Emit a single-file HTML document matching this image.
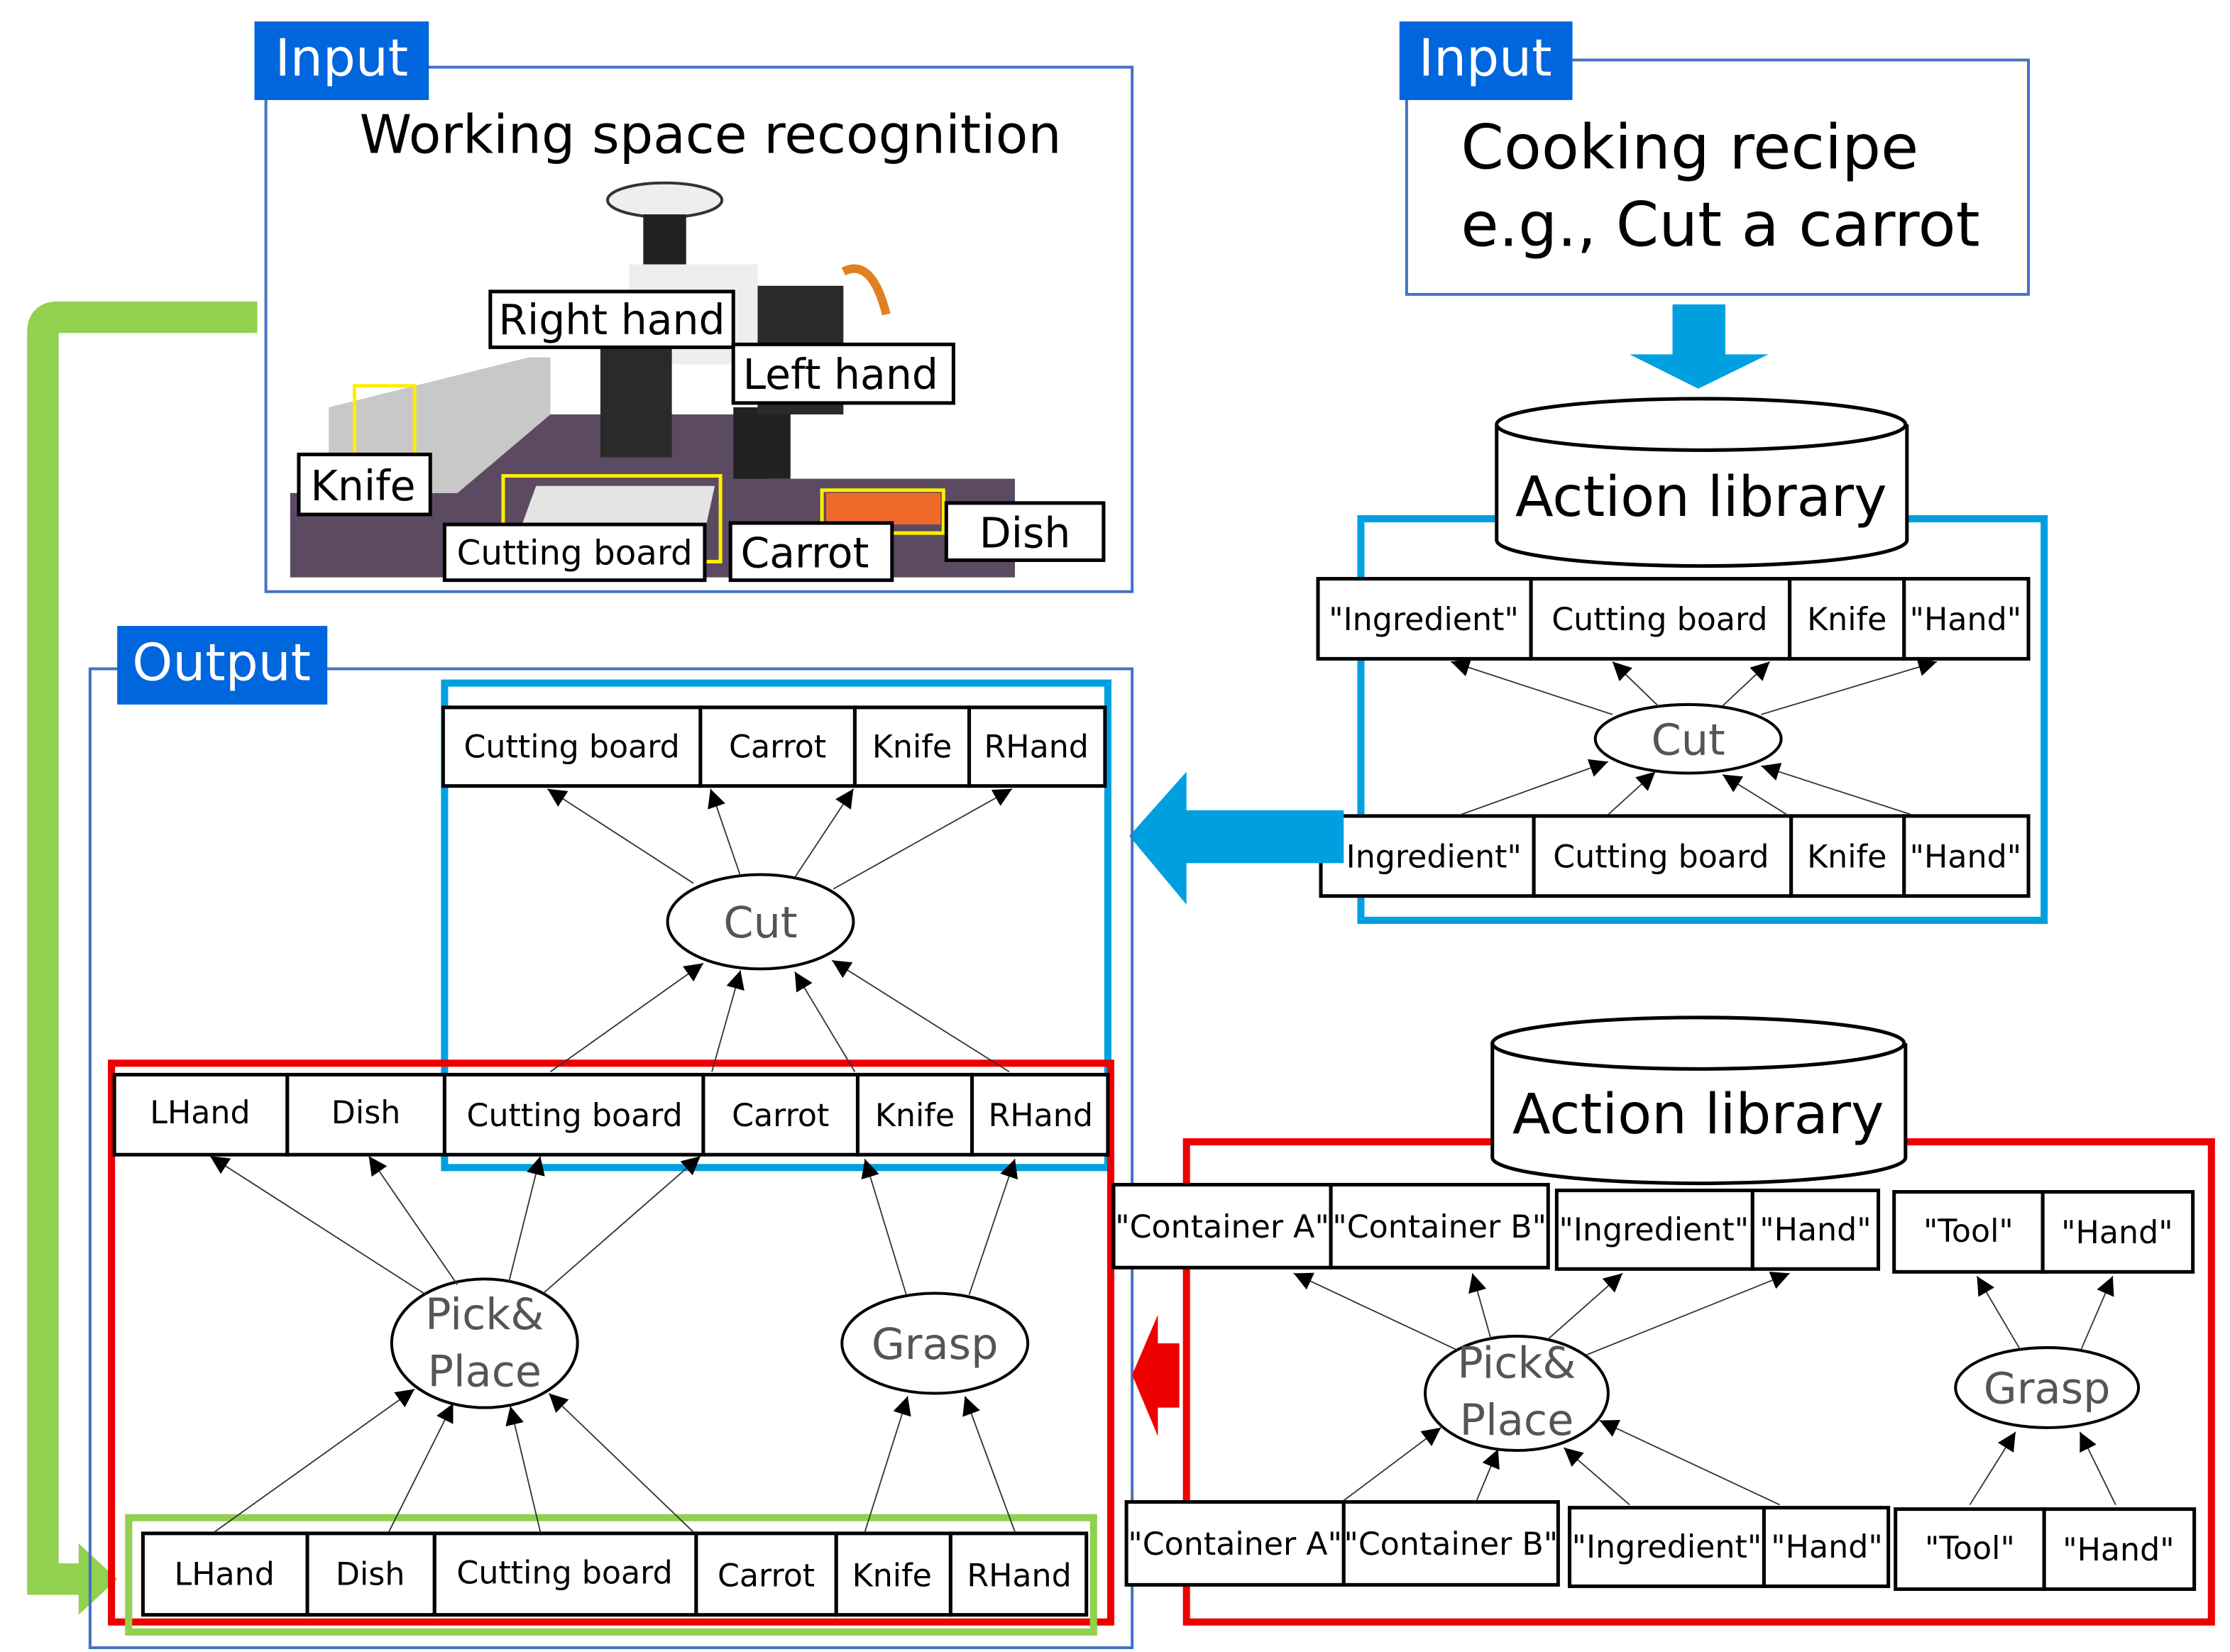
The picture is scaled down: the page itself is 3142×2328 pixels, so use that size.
<!DOCTYPE html>
<html><head><meta charset="utf-8"><style>
html,body{margin:0;padding:0;background:#fff}
svg{display:block}
text{font-family:"DejaVu Sans","Liberation Sans",sans-serif}
.bx{fill:#fff;stroke:#000;stroke-width:2.5}
.bt{font-size:22px;text-anchor:middle;fill:#000}
.ln{stroke:#333;stroke-width:0.9;fill:none}
.el{fill:#fff;stroke:#000;stroke-width:2}
.et{font-size:30px;text-anchor:middle;fill:#555}
</style></head><body>
<svg width="3142" height="2328" viewBox="0 0 1560 1156" preserveAspectRatio="none" xmlns="http://www.w3.org/2000/svg">
<defs>
<marker id="a" viewBox="0 0 10 10" refX="10" refY="5" markerWidth="13" markerHeight="13" markerUnits="userSpaceOnUse" orient="auto"><path d="M0,0L10,5L0,10z" fill="#000"/></marker>
</defs>

<path d="M180,222 L40,222 Q30,222 30,232 L30,1105 L58,1105" fill="none" stroke="#92d050" stroke-width="22"/>
<polygon points="82,1105 55,1080 55,1130" fill="#92d050"/>

<rect x="186" y="47" width="606" height="367" fill="#fff" stroke="#4472c4" stroke-width="2"/>
<rect x="178" y="15" width="122" height="55" fill="#0066dd"/>
<text x="239" y="53" font-size="36" fill="#fff" text-anchor="middle">Input</text>
<text x="497" y="107" font-size="37" text-anchor="middle">Working space recognition</text>
<polygon points="203,370 203,345 320,345 385,290 540,290 540,335 710,335 710,404 203,404" fill="#5b4a62"/>
<polygon points="230,285 370,250 385,250 385,290 320,345 230,345" fill="#c8c8c8"/>
<polygon points="355,395 375,340 500,340 488,395" fill="#e4e4e4"/>
<rect x="578" y="345" width="80" height="22" fill="#f06a2a"/>
<rect x="513" y="285" width="40" height="50" fill="#222"/>
<ellipse cx="465" cy="140" rx="40" ry="12" fill="#eee" stroke="#333" stroke-width="2"/>
<rect x="450" y="150" width="30" height="40" fill="#222"/>
<rect x="440" y="185" width="90" height="70" fill="#eee"/>
<rect x="420" y="240" width="50" height="80" fill="#2a2a2a"/>
<rect x="530" y="200" width="60" height="90" fill="#2a2a2a"/>
<path d="M590,190 Q610,180 620,220" stroke="#e08020" stroke-width="6" fill="none"/>
<rect x="248" y="270" width="42" height="55" fill="none" stroke="#ffee00" stroke-width="2.5"/>
<rect x="352" y="333" width="152" height="60" fill="none" stroke="#ffee00" stroke-width="2.5"/>
<rect x="575" y="343" width="85" height="30" fill="none" stroke="#ffee00" stroke-width="2.5"/>
<rect class="bx" x="343" y="204" width="170" height="39"/><text x="428" y="234" font-size="29" text-anchor="middle">Right hand</text>
<rect class="bx" x="513" y="241" width="154" height="41"/><text x="588" y="272" font-size="29" text-anchor="middle">Left hand</text>
<rect class="bx" x="209" y="318" width="92" height="42"/><text x="254" y="350" font-size="29" text-anchor="middle">Knife</text>
<rect class="bx" x="311" y="367" width="182" height="39"/><text x="402" y="395" font-size="24" text-anchor="middle">Cutting board</text>
<rect class="bx" x="511" y="366" width="113" height="40"/><text x="563" y="397" font-size="29" text-anchor="middle">Carrot</text>
<rect class="bx" x="662" y="352" width="110" height="40"/><text x="717" y="383" font-size="29" text-anchor="middle">Dish</text>

<rect x="984" y="42" width="435" height="164" fill="#fff" stroke="#4472c4" stroke-width="2"/>
<rect x="979" y="15" width="121" height="55" fill="#0066dd"/>
<text x="1039" y="53" font-size="36" fill="#fff" text-anchor="middle">Input</text>
<text x="1022" y="118" font-size="43">Cooking recipe</text>
<text x="1022" y="172" font-size="43">e.g., Cut a carrot</text>

<rect x="1170" y="213" width="37" height="37" fill="#00a0e0"/>
<polygon points="1140,248 1237,248 1188,272" fill="#00a0e0"/>

<rect x="952" y="363" width="478" height="281" fill="none" stroke="#00a0e0" stroke-width="5"/>
<path d="M1047,297 L1047,378 A143,18 0 0 0 1334,378 L1334,297" fill="#fff" stroke="#000" stroke-width="2.5"/>
<ellipse cx="1190" cy="297" rx="143" ry="18" fill="#fff" stroke="#000" stroke-width="2.5"/>
<text x="1190" y="361" font-size="39" text-anchor="middle">Action library</text>

<rect class="bx" x="922" y="405" width="149" height="56"/><text class="bt" x="996" y="441" font-size="21">"Ingredient"</text>
<rect class="bx" x="1071" y="405" width="181" height="56"/><text class="bt" x="1161" y="441">Cutting board</text>
<rect class="bx" x="1252" y="405" width="80" height="56"/><text class="bt" x="1292" y="441">Knife</text>
<rect class="bx" x="1332" y="405" width="87" height="56"/><text class="bt" x="1375" y="441">"Hand"</text>
<ellipse class="el" cx="1181" cy="517" rx="65" ry="24"/><text class="et" x="1181" y="528">Cut</text>
<rect class="bx" x="924" y="571" width="149" height="56"/><text class="bt" x="998" y="607" font-size="21">"Ingredient"</text>
<rect class="bx" x="1073" y="571" width="180" height="56"/><text class="bt" x="1162" y="607">Cutting board</text>
<rect class="bx" x="1253" y="571" width="79" height="56"/><text class="bt" x="1292" y="607">Knife</text>
<rect class="bx" x="1332" y="571" width="87" height="56"/><text class="bt" x="1375" y="607">"Hand"</text>
<line class="ln" x1="1128" y1="500" x2="1015" y2="463" marker-end="url(#a)"/>
<line class="ln" x1="1160" y1="494" x2="1128" y2="463" marker-end="url(#a)"/>
<line class="ln" x1="1205" y1="494" x2="1238" y2="463" marker-end="url(#a)"/>
<line class="ln" x1="1232" y1="500" x2="1355" y2="463" marker-end="url(#a)"/>
<line class="ln" x1="1022" y1="570" x2="1125" y2="533" marker-end="url(#a)"/>
<line class="ln" x1="1125" y1="570" x2="1158" y2="540" marker-end="url(#a)"/>
<line class="ln" x1="1250" y1="570" x2="1205" y2="542" marker-end="url(#a)"/>
<line class="ln" x1="1337" y1="570" x2="1232" y2="536" marker-end="url(#a)"/>

<rect x="828" y="567" width="112" height="37" fill="#00a0e0"/>
<polygon points="790,585 830,540 830,633" fill="#00a0e0"/>

<rect x="63" y="468" width="729" height="685" fill="none" stroke="#4472c4" stroke-width="2"/>
<rect x="82" y="438" width="147" height="55" fill="#0066dd"/>
<text x="155" y="476" font-size="36" fill="#fff" text-anchor="middle">Output</text>

<rect x="311" y="478" width="464" height="339" fill="none" stroke="#00a0e0" stroke-width="5"/>
<rect x="78" y="744" width="699" height="391" fill="none" stroke="#ee0000" stroke-width="5"/>
<rect x="90" y="1062" width="675" height="80" fill="none" stroke="#92d050" stroke-width="5"/>

<rect class="bx" x="310" y="495" width="180" height="55"/><text class="bt" x="400" y="530">Cutting board</text>
<rect class="bx" x="490" y="495" width="108" height="55"/><text class="bt" x="544" y="530">Carrot</text>
<rect class="bx" x="598" y="495" width="80" height="55"/><text class="bt" x="638" y="530">Knife</text>
<rect class="bx" x="678" y="495" width="95" height="55"/><text class="bt" x="725" y="530">RHand</text>
<ellipse class="el" cx="532" cy="645" rx="65" ry="33"/><text class="et" x="532" y="656">Cut</text>
<line class="ln" x1="485" y1="618" x2="383" y2="552" marker-end="url(#a)"/>
<line class="ln" x1="518" y1="613" x2="497" y2="552" marker-end="url(#a)"/>
<line class="ln" x1="556" y1="614" x2="597" y2="552" marker-end="url(#a)"/>
<line class="ln" x1="583" y1="622" x2="708" y2="552" marker-end="url(#a)"/>
<line class="ln" x1="385" y1="750" x2="492" y2="674" marker-end="url(#a)"/>
<line class="ln" x1="498" y1="750" x2="518" y2="679" marker-end="url(#a)"/>
<line class="ln" x1="598" y1="750" x2="556" y2="680" marker-end="url(#a)"/>
<line class="ln" x1="706" y1="750" x2="582" y2="672" marker-end="url(#a)"/>

<rect class="bx" x="80" y="752" width="121" height="56"/><text class="bt" x="140" y="786">LHand</text>
<rect class="bx" x="201" y="752" width="110" height="56"/><text class="bt" x="256" y="786">Dish</text>
<rect class="bx" x="311" y="752" width="181" height="56"/><text class="bt" x="402" y="788">Cutting board</text>
<rect class="bx" x="492" y="752" width="108" height="56"/><text class="bt" x="546" y="788">Carrot</text>
<rect class="bx" x="600" y="752" width="80" height="56"/><text class="bt" x="640" y="788">Knife</text>
<rect class="bx" x="680" y="752" width="95" height="56"/><text class="bt" x="728" y="788">RHand</text>

<ellipse class="el" cx="339" cy="940" rx="65" ry="45"/>
<text class="et" x="339" y="930">Pick&amp;</text><text class="et" x="339" y="970">Place</text>
<ellipse class="el" cx="654" cy="940" rx="65" ry="35"/><text class="et" x="654" y="951">Grasp</text>
<line class="ln" x1="298" y1="906" x2="147" y2="809" marker-end="url(#a)"/>
<line class="ln" x1="320" y1="899" x2="258" y2="809" marker-end="url(#a)"/>
<line class="ln" x1="356" y1="897" x2="378" y2="809" marker-end="url(#a)"/>
<line class="ln" x1="380" y1="905" x2="490" y2="809" marker-end="url(#a)"/>
<line class="ln" x1="634" y1="906" x2="605" y2="811" marker-end="url(#a)"/>
<line class="ln" x1="678" y1="906" x2="710" y2="811" marker-end="url(#a)"/>

<rect class="bx" x="100" y="1073" width="115" height="57"/><text class="bt" x="157" y="1109">LHand</text>
<rect class="bx" x="215" y="1073" width="89" height="57"/><text class="bt" x="259" y="1109">Dish</text>
<rect class="bx" x="304" y="1073" width="183" height="57"/><text class="bt" x="395" y="1108">Cutting board</text>
<rect class="bx" x="487" y="1073" width="98" height="57"/><text class="bt" x="536" y="1110">Carrot</text>
<rect class="bx" x="585" y="1073" width="80" height="57"/><text class="bt" x="624" y="1110">Knife</text>
<rect class="bx" x="665" y="1073" width="95" height="57"/><text class="bt" x="713" y="1110">RHand</text>
<line class="ln" x1="150" y1="1072" x2="290" y2="972" marker-end="url(#a)"/>
<line class="ln" x1="272" y1="1072" x2="317" y2="982" marker-end="url(#a)"/>
<line class="ln" x1="378" y1="1072" x2="357" y2="984" marker-end="url(#a)"/>
<line class="ln" x1="485" y1="1072" x2="384" y2="975" marker-end="url(#a)"/>
<line class="ln" x1="605" y1="1072" x2="635" y2="977" marker-end="url(#a)"/>
<line class="ln" x1="710" y1="1072" x2="675" y2="977" marker-end="url(#a)"/>

<rect x="808" y="940" width="17" height="45" fill="#ee0000"/>
<polygon points="792,962 810,920 810,1005" fill="#ee0000"/>

<rect x="830" y="799" width="717" height="336" fill="none" stroke="#ee0000" stroke-width="5"/>
<path d="M1044,730 L1044,810 A144,18 0 0 0 1333,810 L1333,730" fill="#fff" stroke="#000" stroke-width="2.5"/>
<ellipse cx="1188" cy="730" rx="144" ry="18" fill="#fff" stroke="#000" stroke-width="2.5"/>
<text x="1188" y="793" font-size="39" text-anchor="middle">Action library</text>

<rect class="bx" x="779" y="829" width="152" height="58"/><text class="bt" x="855" y="866" font-size="20">"Container A"</text>
<rect class="bx" x="931" y="829" width="152" height="58"/><text class="bt" x="1007" y="866" font-size="20">"Container B"</text>
<rect class="bx" x="1089" y="833" width="137" height="55"/><text class="bt" x="1157" y="868" font-size="20">"Ingredient"</text>
<rect class="bx" x="1226" y="833" width="88" height="55"/><text class="bt" x="1270" y="868">"Hand"</text>
<rect class="bx" x="1325" y="834" width="104" height="56"/><text class="bt" x="1377" y="869">"Tool"</text>
<rect class="bx" x="1429" y="834" width="105" height="56"/><text class="bt" x="1481" y="870">"Hand"</text>

<ellipse class="el" cx="1061" cy="975" rx="64" ry="40"/>
<text class="et" x="1061" y="964">Pick&amp;</text><text class="et" x="1061" y="1004">Place</text>
<ellipse class="el" cx="1432" cy="971" rx="64" ry="28"/><text class="et" x="1432" y="982">Grasp</text>
<line class="ln" x1="1020" y1="945" x2="905" y2="891" marker-end="url(#a)"/>
<line class="ln" x1="1043" y1="937" x2="1030" y2="891" marker-end="url(#a)"/>
<line class="ln" x1="1083" y1="937" x2="1135" y2="891" marker-end="url(#a)"/>
<line class="ln" x1="1110" y1="948" x2="1252" y2="891" marker-end="url(#a)"/>
<line class="ln" x1="1413" y1="944" x2="1383" y2="893" marker-end="url(#a)"/>
<line class="ln" x1="1456" y1="944" x2="1478" y2="893" marker-end="url(#a)"/>

<rect class="bx" x="788" y="1051" width="152" height="58"/><text class="bt" x="864" y="1088" font-size="20">"Container A"</text>
<rect class="bx" x="940" y="1051" width="150" height="58"/><text class="bt" x="1015" y="1088" font-size="20">"Container B"</text>
<rect class="bx" x="1098" y="1055" width="136" height="55"/><text class="bt" x="1166" y="1090" font-size="20">"Ingredient"</text>
<rect class="bx" x="1234" y="1055" width="87" height="55"/><text class="bt" x="1278" y="1090">"Hand"</text>
<rect class="bx" x="1326" y="1056" width="104" height="56"/><text class="bt" x="1378" y="1091">"Tool"</text>
<rect class="bx" x="1430" y="1056" width="105" height="56"/><text class="bt" x="1482" y="1092">"Hand"</text>
<line class="ln" x1="940" y1="1050" x2="1008" y2="999" marker-end="url(#a)"/>
<line class="ln" x1="1033" y1="1050" x2="1048" y2="1014" marker-end="url(#a)"/>
<line class="ln" x1="1140" y1="1053" x2="1094" y2="1013" marker-end="url(#a)"/>
<line class="ln" x1="1245" y1="1053" x2="1119" y2="994" marker-end="url(#a)"/>
<line class="ln" x1="1378" y1="1053" x2="1410" y2="1002" marker-end="url(#a)"/>
<line class="ln" x1="1480" y1="1053" x2="1455" y2="1002" marker-end="url(#a)"/>
</svg>
</body></html>
